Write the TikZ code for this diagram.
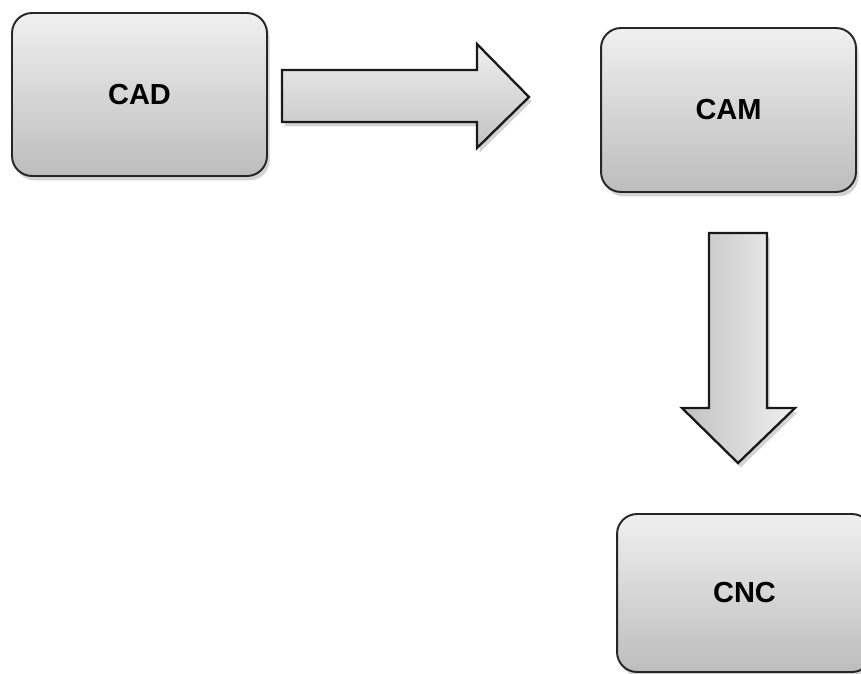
\documentclass[tikz,border=0pt]{standalone}
\usepackage{fontspec}
\newfontfamily\boxfont{Liberation Sans}
\usetikzlibrary{shadows}

\tikzset{
    stagebox/.style={draw=black!85, line width=1.1pt, rounded corners=0.4cm,
        top color=black!6, bottom color=black!26,
        drop shadow={shadow xshift=1.5pt, shadow yshift=-2.5pt, opacity=0.35},
        minimum width=5.1cm, font=\boxfont\bfseries\fontsize{16.5}{19}\selectfont},
    blockarrow/.style={draw=black!90, line width=1.3pt, line join=miter,
        drop shadow={shadow xshift=1.5pt, shadow yshift=-2.5pt, opacity=0.35}}
}

\begin{document}
\begin{tikzpicture}[x=0.02cm, y=-0.02cm]
    % Fix the page to the picture size
    \useasboundingbox (0,0) rectangle (861,673);

    % Draw the three stages
    \node[stagebox, minimum height=3.26cm] (cad) at (139.5,94.5) {CAD};
    \node[stagebox, minimum height=3.28cm] (cam) at (728.5,110) {CAM};
    \node[stagebox, minimum height=3.16cm] (cnc) at (744.5,593) {CNC};

    % Draw the block arrow from CAD to CAM
    \draw[blockarrow, top color=black!6, bottom color=black!24]
        (282,70) -- (477,70) -- (477,44) -- (529,97) -- (477,148)
        -- (477,122) -- (282,122) -- cycle;

    % Draw the block arrow from CAM to CNC
    \draw[blockarrow, left color=black!24, right color=black!6]
        (709,233) -- (767,233) -- (767,408) -- (795,408) -- (738,463)
        -- (682,408) -- (709,408) -- cycle;

\end{tikzpicture}
\end{document}
